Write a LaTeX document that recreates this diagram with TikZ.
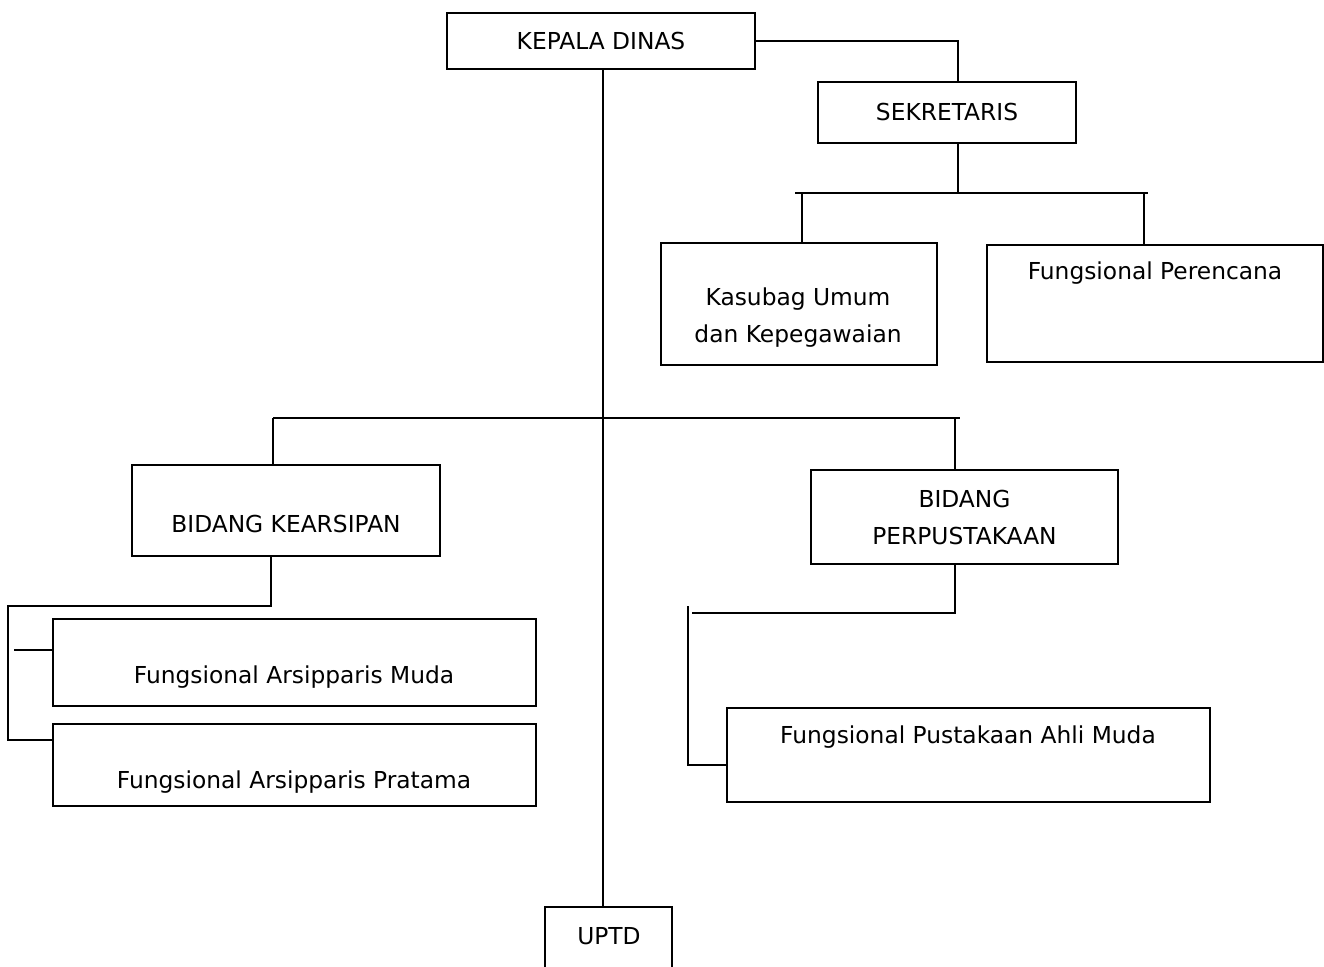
\documentclass[tikz,border=0pt]{standalone}
\usepackage{fontspec}
\setmainfont{DejaVu Sans}
\usepackage{tikz}
\usetikzlibrary{calc}
\tikzset{
	orgbox/.style={draw, line width=0.5mm, inner sep=0pt, align=center},
	orgtext/.style={inner sep=0pt, align=center},
	orgline/.style={line width=0.5mm}
}

\begin{document}
\begin{tikzpicture}[x=0.75pt, y=-0.75pt, font=\fontsize{17.5}{27.75}\selectfont]
		%%%%% START %%%%%
		\clip (0, 0) rectangle (1324, 967);
		
		% boxes
		\node[orgbox, minimum width=231pt, minimum height=42pt] (kepala) at (601, 41) {KEPALA DINAS};
		\node[orgbox, minimum width=193.5pt, minimum height=45.75pt] (sekretaris) at (947, 112.5) {SEKRETARIS};
		
		\node[orgbox, minimum width=207pt, minimum height=91.5pt] (kasubag) at (799, 304) {};
		\node[orgtext] (kasubagtext) at (798, 318) {Kasubag Umum\\dan Kepegawaian};
		\node[orgbox, minimum width=252pt, minimum height=87.75pt] (perencana) at (1155, 303.5) {};
		\node[orgtext] (perencanatext) at (1155, 273) {Fungsional Perencana};
		
		\node[orgbox, minimum width=231pt, minimum height=68.25pt] (kearsipan) at (286, 510.5) {};
		\node[orgtext] (kearsipantext) at (286, 524) {BIDANG KEARSIPAN};
		\node[orgbox, minimum width=230.25pt, minimum height=70.5pt] (perpustakaan) at (964.5, 517) {BIDANG\\PERPUSTAKAAN};
		
		\node[orgbox, minimum width=362.25pt, minimum height=65.25pt] (muda) at (294.5, 662.5) {};
		\node[orgtext] (mudatext) at (294, 677) {Fungsional Arsipparis Muda};
		\node[orgbox, minimum width=362.25pt, minimum height=61.5pt] (pratama) at (294.5, 765) {};
		\node[orgtext] (pratamatext) at (294, 782) {Fungsional Arsipparis Pratama};
		
		\node[orgbox, minimum width=362.25pt, minimum height=70.5pt] (ahlimuda) at (968.5, 755) {};
		\node[orgtext] (ahlimudatext) at (968, 737) {Fungsional Pustakaan Ahli Muda};
		
		\node[orgbox, minimum width=95.25pt, minimum height=49.5pt] (uptd) at (608.5, 940) {};
		\node[orgtext] (uptdtext) at (609, 936) {UPTD};
		
		% kepala -> sekretaris
		\coordinate (sekjoin) at (958, 41);
		\coordinate (sekbus) at (958, 193);
		\draw[orgline] (kepala.east) -- (sekjoin) -- (sekjoin |- sekretaris.north);
		
		% sekretaris -> kasubag, perencana
		\coordinate (sekL) at (795, 193);
		\coordinate (sekR) at (1148, 193);
		\coordinate (kasdrop) at (802, 193);
		\coordinate (perdrop) at (1144, 193);
		\draw[orgline] (sekbus |- sekretaris.south) -- (sekbus);
		\draw[orgline] (sekL) -- (sekR);
		\draw[orgline] (kasdrop) -- (kasdrop |- kasubag.north);
		\draw[orgline] (perdrop) -- (perdrop |- perencana.north);
		
		% kepala -> uptd
		\coordinate (maindrop) at (603, 69);
		\draw[orgline] (maindrop |- kepala.south) -- (maindrop |- uptd.north);
		
		% kepala -> bidang
		\coordinate (bidL) at (273, 418);
		\coordinate (bidR) at (960, 418);
		\coordinate (pusdrop) at (955, 418);
		\draw[orgline] (bidL) -- (bidR);
		\draw[orgline] (bidL) -- (bidL |- kearsipan.north);
		\draw[orgline] (pusdrop) -- (pusdrop |- perpustakaan.north);
		
		% kearsipan -> fungsional
		\coordinate (arsturn) at (271, 606);
		\coordinate (arscorner) at (8, 606);
		\coordinate (arsbot) at (8, 740);
		\coordinate (arsmid) at (14, 650);
		\draw[orgline] (arsturn |- kearsipan.south) -- (arsturn) -- (arscorner) -- (arsbot) -- (arsbot -| pratama.west);
		\draw[orgline] (arsmid) -- (arsmid -| muda.west);
		
		% perpustakaan -> fungsional
		\coordinate (pusturn) at (955, 613);
		\coordinate (pusleft) at (692, 613);
		\coordinate (pustop) at (688, 606);
		\coordinate (pusbot) at (688, 765);
		\draw[orgline] (pusturn |- perpustakaan.south) -- (pusturn) -- (pusleft);
		\draw[orgline] (pustop) -- (pusbot) -- (pusbot -| ahlimuda.west);
		
		%%%%% END %%%%%
	\end{tikzpicture}
\end{document}
